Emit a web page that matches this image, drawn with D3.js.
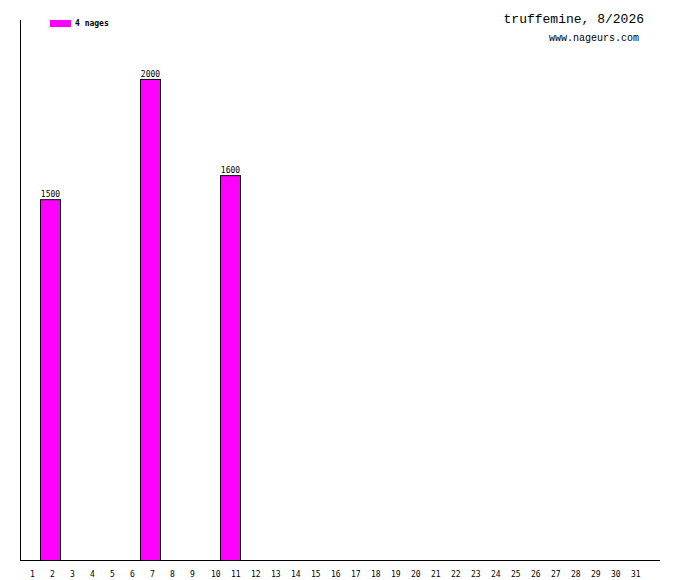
<!DOCTYPE html>
<html>
<head>
<meta charset="utf-8">
<script src="https://cdn.jsdelivr.net/npm/d3@7"></script>
<style>
  body { margin: 0; background: #fff; }
  svg text { font-family: "DejaVu Sans Mono", monospace; }
  svg text.head { font-family: "Liberation Mono", monospace; }
</style>
</head>
<body>
<div id="chart"></div>
<script>
const days = d3.range(1, 32).map(String);
const barDays = ["2", "7", "11"];
const barValues = [1500, 2000, 1600];
const legendLabel = "4 nages";
const title = "truffemine, 8/2026";
const subtitle = "www.nageurs.com";

const width = 680;
const height = 580;
const margin = { top: 20, right: 20, bottom: 20, left: 20 };

const svg = d3.select("#chart")
  .append("svg")
  .attr("width", width)
  .attr("height", height);

// 31 day slots of 20px, axis runs one slot further
const x = d3.scaleBand()
  .domain(days)
  .range([margin.left, margin.left + 20 * days.length])
  .padding(0);

const y = d3.scaleLinear()
  .domain([0, 2245])
  .range([height - margin.bottom, margin.top]);

// axes lines
svg.append("line")
  .attr("x1", margin.left + 0.5).attr("x2", margin.left + 0.5)
  .attr("y1", margin.top).attr("y2", height - margin.bottom)
  .attr("stroke", "#000");

svg.append("line")
  .attr("x1", margin.left).attr("x2", width - margin.right)
  .attr("y1", height - margin.bottom + 0.5).attr("y2", height - margin.bottom + 0.5)
  .attr("stroke", "#000");

// day labels, drawn from the middle of each slot
svg.append("g")
  .selectAll("text")
  .data(days)
  .join("text")
  .attr("x", d => x(d) + x.bandwidth() / 2 + (d.length > 1 ? 1 : 0))
  .attr("y", 577)
  .attr("text-anchor", "start")
  .style("font-size", "8px")
  .text(d => d);

const bars = barDays.map((d, i) => ({ day: d, value: barValues[i] }));

svg.append("g")
  .selectAll("rect")
  .data(bars)
  .join("rect")
  .attr("x", d => x(d.day) + 0.5)
  .attr("y", d => y(d.value) + 0.5)
  .attr("width", x.bandwidth())
  .attr("height", d => y(0) - y(d.value))
  .attr("fill", "#ff00ff")
  .attr("stroke", "#000");

svg.append("g")
  .selectAll("text")
  .data(bars)
  .join("text")
  .attr("x", d => x(d.day) + x.bandwidth() / 2 + 0.5)
  .attr("y", d => y(d.value) - 2)
  .attr("text-anchor", "middle")
  .style("font-size", "8px")
  .text(d => d.value);

// legend
svg.append("rect")
  .attr("x", 50).attr("y", 20)
  .attr("width", 21).attr("height", 7)
  .attr("fill", "#ff00ff");

svg.append("text")
  .attr("x", 75).attr("y", 26)
  .style("font-size", "8px")
  .style("font-weight", "bold")
  .text(legendLabel);

// titles
svg.append("text")
  .attr("class", "head")
  .attr("x", 644).attr("y", 23)
  .attr("text-anchor", "end")
  .style("font-size", "13px")
  .text(title);

svg.append("text")
  .attr("class", "head")
  .attr("x", 639).attr("y", 41)
  .attr("text-anchor", "end")
  .style("font-size", "10px")
  .text(subtitle);
</script>
</body>
</html>
